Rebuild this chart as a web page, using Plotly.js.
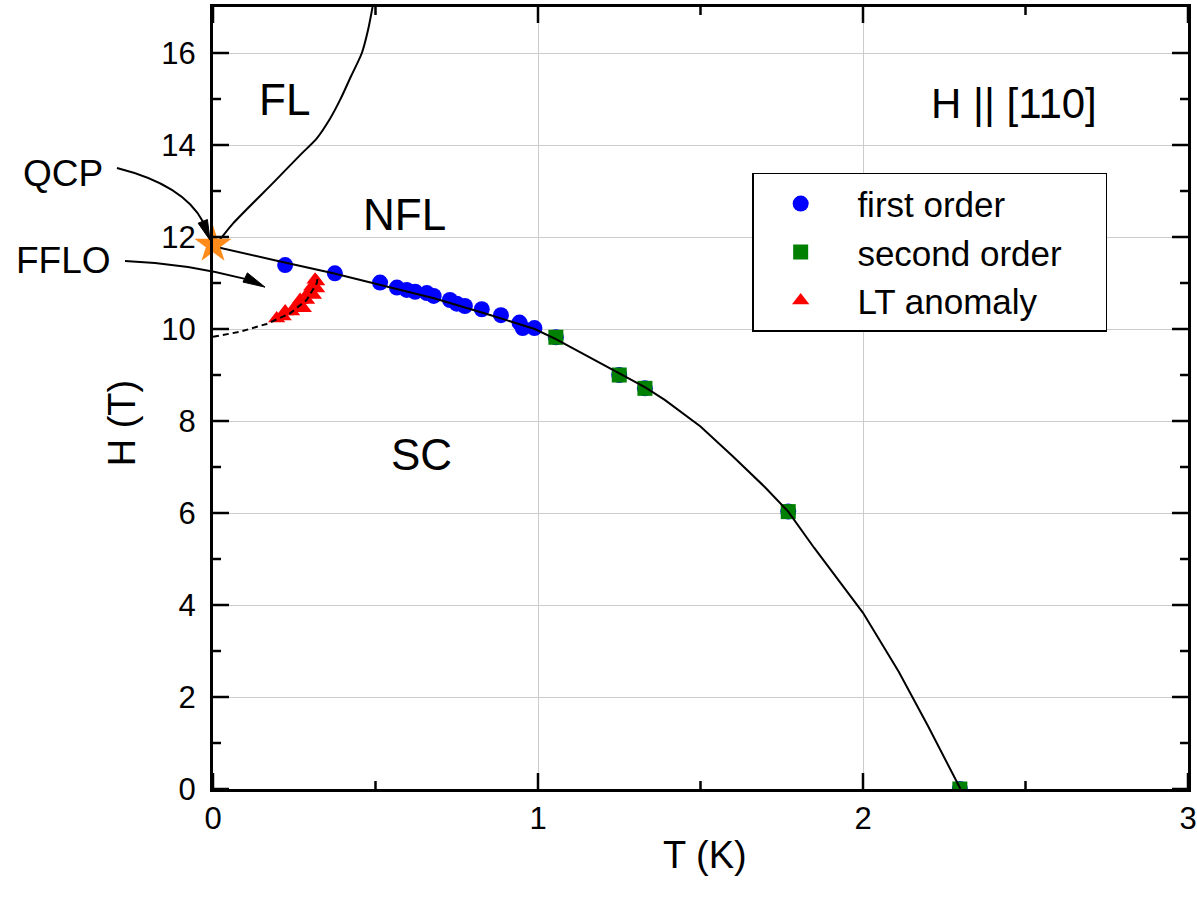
<!DOCTYPE html>
<html>
<head>
<meta charset="utf-8">
<script src="https://cdn.plot.ly/plotly-3.0.1.min.js"></script>
<style>html,body{margin:0;padding:0;background:#fff;}#chart{width:1197px;height:901px;}</style>
</head>
<body>
<div id="chart"></div>
<script>
// ---- data ----
var firstOrderT = [0.222, 0.375, 0.514, 0.566, 0.596, 0.622, 0.658, 0.679, 0.729, 0.750, 0.775, 0.827, 0.886, 0.943, 0.953, 0.989, 1.055, 1.250, 1.329, 1.770, 2.298];
var firstOrderH = [11.39, 11.21, 11.01, 10.90, 10.85, 10.81, 10.78, 10.72, 10.63, 10.55, 10.50, 10.43, 10.30, 10.14, 10.02, 10.02, 9.82, 9.00, 8.71, 6.03, 0.00];

var secondOrderT = [1.055, 1.250, 1.329, 1.770, 2.298];
var secondOrderH = [9.82, 9.00, 8.71, 6.03, 0.00];

var ltAnomalyT = [0.196, 0.216, 0.222, 0.242, 0.252, 0.268, 0.278, 0.268, 0.288, 0.293, 0.309, 0.304, 0.319, 0.314, 0.319];
var ltAnomalyH = [10.23, 10.27, 10.38, 10.38, 10.47, 10.52, 10.45, 10.63, 10.63, 10.78, 10.74, 10.92, 10.88, 11.07, 11.03];

var qcpT = [0.0];
var qcpH = [11.83];

var hc2T = [0, 0.06, 0.2, 0.37, 0.5, 0.68, 0.85, 0.99, 1.055, 1.25, 1.33, 1.39, 1.5, 1.6, 1.7, 1.77, 1.85, 2.0, 2.11, 2.2, 2.3];
var hc2H = [11.8, 11.7, 11.48, 11.21, 10.98, 10.67, 10.31, 10.0, 9.78, 9.03, 8.73, 8.46, 7.88, 7.23, 6.55, 6.03, 5.24, 3.83, 2.55, 1.37, 0.0];

var flT = [0, 0.011, 0.0625, 0.191, 0.268, 0.32, 0.36, 0.391, 0.425, 0.458, 0.477, 0.491];
var flH = [11.8, 11.86, 12.30, 13.22, 13.78, 14.15, 14.57, 14.98, 15.5, 16.0, 16.5, 17.0];

var ffloT = [0, 0.083, 0.165, 0.237, 0.288, 0.319, 0.324];
var ffloH = [9.83, 9.94, 10.11, 10.34, 10.63, 10.99, 11.17];

var xRange = [0, 3];
var yRange = [0, 17];
var xMajorTicks = [0, 1, 2, 3];
var xMinorTicks = [0.5, 1.5, 2.5];
var yMajorTicks = [0, 2, 4, 6, 8, 10, 12, 14, 16];
var yMinorTicks = [1, 3, 5, 7, 9, 11, 13, 15];

// ---- geometry of the plot area (px) ----
var MARGIN = { l: 213, r: 9, t: 7, b: 112 };
var PW = 1197 - MARGIN.l - MARGIN.r;
var PH = 901 - MARGIN.t - MARGIN.b;

function px(t) { return (t - xRange[0]) / (xRange[1] - xRange[0]); }
function py(h) { return (h - yRange[0]) / (yRange[1] - yRange[0]); }
function P(t, h) { return px(t) + ',' + py(h); }

var FONT = 'Liberation Sans, Arial, Helvetica, sans-serif';
var NB = '\u00a0';
var TAIL = NB + NB + NB + NB;

var traces = [
  { x: firstOrderT, y: firstOrderH, mode: 'markers', type: 'scatter', name: NB + 'first order' + TAIL,
    marker: { symbol: 'circle', size: 16, color: '#0000ff' } },
  { x: secondOrderT, y: secondOrderH, mode: 'markers', type: 'scatter', name: NB + 'second order' + TAIL,
    marker: { symbol: 'square', size: 15, color: '#008000' } },
  { x: ltAnomalyT, y: ltAnomalyH, mode: 'markers', type: 'scatter', name: NB + 'LT anomaly' + TAIL,
    marker: { symbol: 'triangle-up', size: 15, color: '#ff0000' } },
  { x: hc2T, y: hc2H, mode: 'lines', type: 'scatter', showlegend: false,
    line: { color: '#000', width: 2 } },
  { x: flT, y: flH, mode: 'lines', type: 'scatter', showlegend: false,
    line: { color: '#000', width: 2, shape: 'spline', smoothing: 0.8 } },
  { x: ffloT, y: ffloH, mode: 'lines', type: 'scatter', showlegend: false,
    line: { color: '#000', width: 2, dash: '6px,4px' } },
  { x: qcpT, y: qcpH, mode: 'markers', type: 'scatter', showlegend: false, cliponaxis: false,
    marker: { symbol: 'star', size: 28, color: '#ff8c1a' } }
];

var shapes = [
  { type: 'path', xref: 'paper', yref: 'paper',
    path: 'M' + P(-0.2954, 13.50) + ' Q' + P(-0.0892, 13.13) + ' ' + P(-0.0308, 12.33),
    line: { color: '#000', width: 2 } },
  { type: 'path', xref: 'paper', yref: 'paper',
    path: 'M' + P(-0.0092, 11.93) + ' L' + P(-0.0458, 12.30) + ' L' + P(-0.0172, 12.38) + ' Z',
    fillcolor: '#000', line: { color: '#000', width: 1 } },
  { type: 'path', xref: 'paper', yref: 'paper',
    path: 'M' + P(-0.2708, 11.48) + ' Q' + P(-0.0862, 11.43) + ' ' + P(0.0985, 11.09),
    line: { color: '#000', width: 2 } },
  { type: 'path', xref: 'paper', yref: 'paper',
    path: 'M' + P(0.16, 10.91) + ' L' + P(0.0923, 11.02) + ' L' + P(0.1058, 11.22) + ' Z',
    fillcolor: '#000', line: { color: '#000', width: 1 } }
];

// inside ticks on all four sides
function tickShape(x0, y0, x1, y1) {
  return { type: 'line', xref: 'paper', yref: 'paper', x0: x0, y0: y0, x1: x1, y1: y1,
    line: { color: '#000', width: 2.5 } };
}
function addYTicks(vals, len) {
  vals.forEach(function (v) {
    shapes.push(tickShape(0, py(v), len / PW, py(v)));
    shapes.push(tickShape(1, py(v), 1 - len / PW, py(v)));
  });
}
function addXTicks(vals, len) {
  vals.forEach(function (v) {
    shapes.push(tickShape(px(v), 0, px(v), len / PH));
    shapes.push(tickShape(px(v), 1, px(v), 1 - len / PH));
  });
}
addYTicks(yMajorTicks, 16);
addYTicks(yMinorTicks, 8);
addXTicks(xMajorTicks, 16);
addXTicks(xMinorTicks, 8);

function label(text, t, h, size, angle) {
  return { text: text, x: px(t), y: py(h), xref: 'paper', yref: 'paper', showarrow: false,
    textangle: angle || 0,
    xanchor: 'center', yanchor: 'middle', font: { family: FONT, size: size, color: '#000' } };
}

var annotations = [
  label('FL', 0.2215, 14.98, 44),
  label('NFL', 0.59, 12.48, 44),
  label('SC', 0.64, 7.28, 44),
  label('H || [110]', 2.465, 14.91, 42),
  label('QCP', -0.4615, 13.39, 37),
  label('FFLO', -0.46, 11.5, 37),
  label('T (K)', 1.514, -1.43, 38),
  label('H (T)', -0.28, 7.95, 38, -90)
];

var axisCommon = {
  showline: true, linecolor: '#000', linewidth: 3, mirror: true,
  ticks: '',
  showgrid: true, gridcolor: '#cccccc', gridwidth: 1, zeroline: false,
  tickfont: { family: FONT, size: 31, color: '#000' }
};

var layout = {
  width: 1197, height: 901,
  margin: MARGIN,
  paper_bgcolor: '#fff', plot_bgcolor: '#fff',
  showlegend: true,
  legend: {
    x: 0.553, y: 0.788, xanchor: 'left', yanchor: 'top',
    bgcolor: '#fff', bordercolor: '#000', borderwidth: 1.5,
    font: { family: FONT, size: 35, color: '#000' },
    itemwidth: 84, tracegroupgap: 0
  },
  xaxis: Object.assign({}, axisCommon, {
    range: xRange, tickmode: 'array', tickvals: xMajorTicks, ticktext: xMajorTicks.map(String),
    ticklabelstandoff: 0
  }),
  yaxis: Object.assign({}, axisCommon, {
    range: yRange, tickmode: 'array', tickvals: yMajorTicks, ticktext: yMajorTicks.map(String),
    ticklabelstandoff: 8
  }),
  shapes: shapes,
  annotations: annotations
};

Plotly.newPlot('chart', traces, layout, { displayModeBar: false, staticPlot: true });
</script>
</body>
</html>
